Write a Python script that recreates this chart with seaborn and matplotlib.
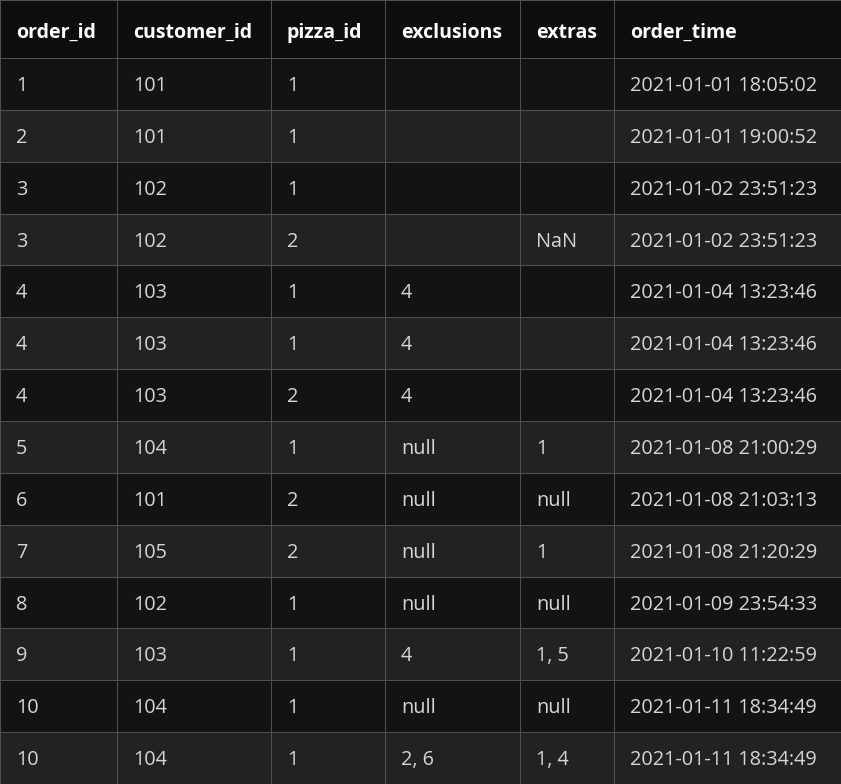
import numpy as np
import matplotlib.pyplot as plt
from matplotlib.colors import ListedColormap
import seaborn as sns

columns = ["order_id", "customer_id", "pizza_id", "exclusions", "extras", "order_time"]
order_id = ["1", "2", "3", "3", "4", "4", "4", "5", "6", "7", "8", "9", "10", "10"]
customer_id = ["101", "101", "102", "102", "103", "103", "103", "104", "101", "105", "102", "103", "104", "104"]
pizza_id = ["1", "1", "1", "2", "1", "1", "2", "1", "2", "2", "1", "1", "1", "1"]
exclusions = ["", "", "", "", "4", "4", "4", "null", "null", "null", "null", "4", "null", "2, 6"]
extras = ["", "", "", "NaN", "", "", "", "1", "null", "1", "null", "1, 5", "null", "1, 4"]
order_time = ["2021-01-01 18:05:02", "2021-01-01 19:00:52", "2021-01-02 23:51:23",
              "2021-01-02 23:51:23", "2021-01-04 13:23:46", "2021-01-04 13:23:46",
              "2021-01-04 13:23:46", "2021-01-08 21:00:29", "2021-01-08 21:03:13",
              "2021-01-08 21:20:29", "2021-01-09 23:54:33", "2021-01-10 11:22:59",
              "2021-01-11 18:34:49", "2021-01-11 18:34:49"]

sns.set_style("white")
plt.rcParams['font.family'] = ['Open Sans', 'DejaVu Sans']

W, H = 841, 784
col_edges = np.array([0, 117, 271, 385, 520, 614, 841])
header_h = 58
nrows = len(order_id)
row_h = (H - header_h) / nrows
row_edges = np.concatenate([[0], header_h + row_h * np.arange(nrows + 1)])

fig = plt.figure(figsize=(W / 100, H / 100), dpi=100)
ax = fig.add_axes([0, 0, 1, 1])

shade = np.zeros((nrows + 1, len(columns)))
for r in range(1, nrows + 1):
    shade[r] = 1 if r % 2 == 1 else 2
cmap = ListedColormap(["#0e0e0e", "#131313", "#222222"])
ax.pcolormesh(col_edges, row_edges, shade, cmap=cmap, vmin=-0.5, vmax=2.5,
              edgecolors="#505050", linewidth=0.7)
ax.set_xlim(0, W)
ax.set_ylim(H, 0)
ax.axis("off")

data = [order_id, customer_id, pizza_id, exclusions, extras, order_time]
for c, name in enumerate(columns):
    x = col_edges[c] + 16
    ax.text(x, header_h / 2 + 4, name, color="white", fontsize=14,
            fontweight="bold", va="center", ha="left")
    for r in range(nrows):
        y = (row_edges[r + 1] + row_edges[r + 2]) / 2 + 2
        ax.text(x, y, data[c][r], color="#d6d6d6", fontsize=14.3,
                va="center", ha="left")

fig.savefig("out.png", dpi=100, facecolor="#0e0e0e")
